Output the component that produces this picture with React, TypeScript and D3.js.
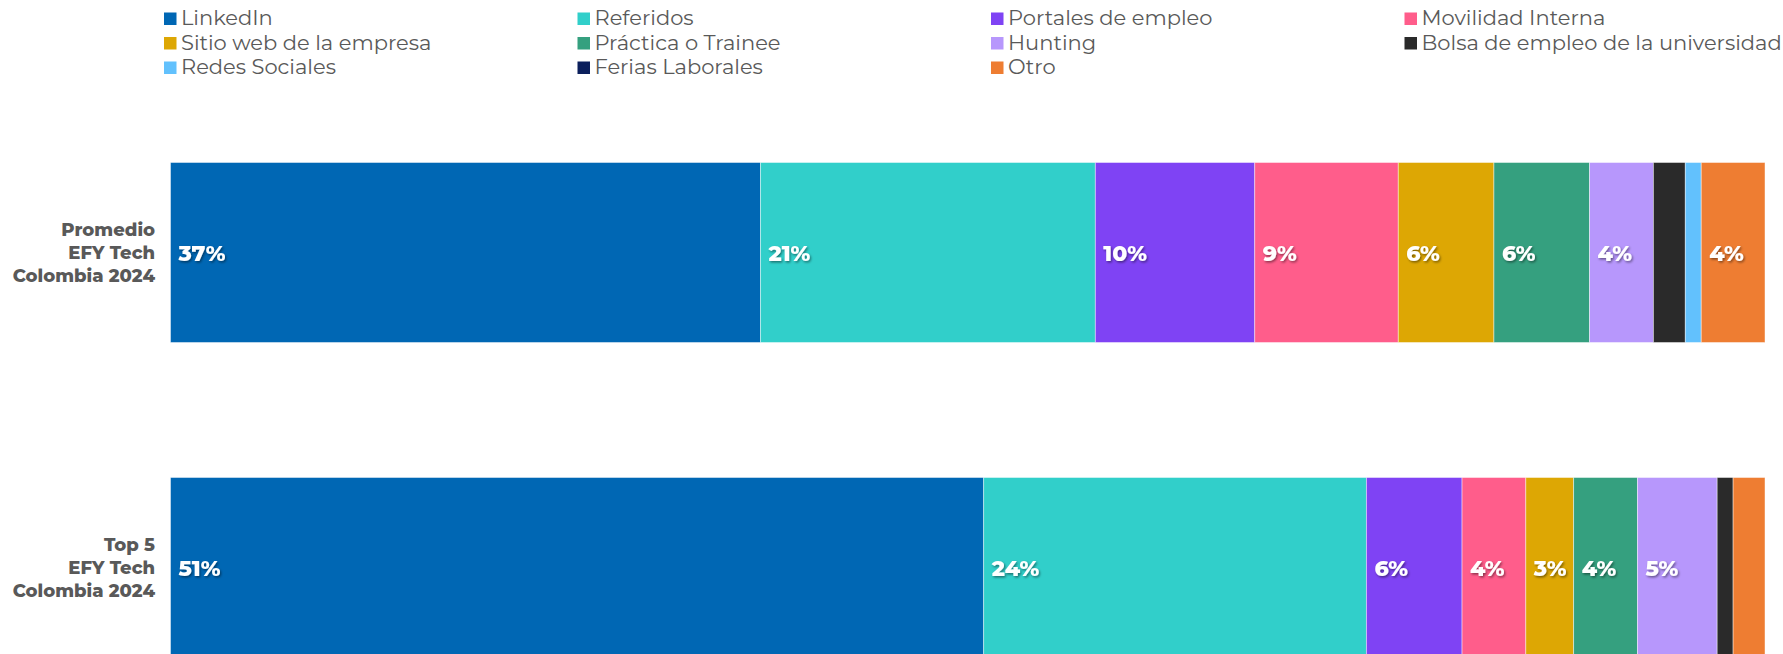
import React from 'react';
import * as d3 from 'd3';

// Fuentes de contratación (orden de apilado y leyenda)
const sources = [
  'LinkedIn',
  'Referidos',
  'Portales de empleo',
  'Movilidad Interna',
  'Sitio web de la empresa',
  'Práctica o Trainee',
  'Hunting',
  'Bolsa de empleo de la universidad',
  'Redes Sociales',
  'Ferias Laborales',
  'Otro',
];

const colors = [
  '#0067B4',
  '#31CFCA',
  '#7F43F4',
  '#FF5D8B',
  '#DDA704',
  '#35A07F',
  '#B797FC',
  '#2A2A2A',
  '#62C1FD',
  '#0B1F5C',
  '#EE7D32',
];

const groups = ['promedio', 'top5'];
const groupLabels = [
  ['Promedio', 'EFY Tech', 'Colombia 2024'],
  ['Top 5', 'EFY Tech', 'Colombia 2024'],
];

// porcentajes
const promedioValues = [37, 21, 10, 9, 6, 6, 4, 2, 1, 0, 4];
const top5Values = [51, 24, 6, 4, 3, 4, 5, 1, 0, 0, 2];

const WIDTH = 1783;
const HEIGHT = 654;
const FONT = "Montserrat, 'DejaVu Sans', sans-serif";

export default function App() {
  const rows = groups.map((g, i) => {
    const vals = i === 0 ? promedioValues : top5Values;
    const row: Record<string, any> = { group: g };
    sources.forEach((s, j) => (row[s] = vals[j]));
    return row;
  });

  const series = d3.stack<any>().keys(sources)(rows);

  const x = d3.scaleLinear().domain([0, 100]).range([170.5, 1765]);
  const y = d3
    .scaleBand<string>()
    .domain(groups)
    .range([95, 725])
    .paddingInner(0.4286)
    .paddingOuter(0.2143);

  const color = d3.scaleOrdinal<string, string>().domain(sources).range(colors);

  const legendX = (i: number) => 164 + (i % 4) * 413.5;
  const legendY = (i: number) => 25 + Math.floor(i / 4) * 24.5;

  return (
    <svg
      width={WIDTH}
      height={HEIGHT}
      style={{ position: 'absolute', left: 0, top: 0, background: '#fff' }}
      fontFamily={FONT}
    >
      <defs>
        <filter id="txtShadow" x="-20%" y="-20%" width="140%" height="160%">
          <feDropShadow dx="1.2" dy="1.5" stdDeviation="0.8" floodColor="#000" floodOpacity="0.45" />
        </filter>
      </defs>

      {/* leyenda */}
      <g>
        {sources.map((s, i) => (
          <g key={s} transform={`translate(${legendX(i)},${legendY(i)})`}>
            <rect x={0} y={-12.5} width={12.5} height={12.5} fill={color(s)} />
            <text x={17} y={0} fontSize={21} fill="#595959">
              {s}
            </text>
          </g>
        ))}
      </g>

      {/* barras apiladas */}
      {series.map((ser) => (
        <g key={ser.key} fill={color(ser.key)}>
          {ser.map((d, i) => {
            const w = x(d[1]) - x(d[0]);
            if (w <= 0) return null;
            return (
              <rect
                key={i}
                x={x(d[0])}
                y={y(groups[i])}
                width={w}
                height={y.bandwidth()}
                stroke="#ffffff"
                strokeOpacity={0.55}
                strokeWidth={0.8}
              />
            );
          })}
        </g>
      ))}

      {/* etiquetas de valor */}
      {series.map((ser) => (
        <g key={ser.key + '-lbl'}>
          {ser.map((d, i) => {
            const v = d[1] - d[0];
            if (v < 3) return null;
            return (
              <text
                key={i}
                x={x(d[0]) + 8}
                y={(y(groups[i]) as number) + y.bandwidth() / 2}
                dy="0.38em"
                fontSize={22}
                fontWeight={800}
                fill="#ffffff"
                filter="url(#txtShadow)"
              >
                {`${Math.round(v)}%`}
              </text>
            );
          })}
        </g>
      ))}

      {/* etiquetas de categoría */}
      {groups.map((g, i) => {
        const cy = (y(g) as number) + y.bandwidth() / 2;
        return (
          <text
            key={g}
            textAnchor="end"
            fontSize={18}
            fontWeight={800}
            fill="#595959"
          >
            {groupLabels[i].map((line, k) => (
              <tspan key={k} x={155} y={cy + (k - 1) * 22.7} dy="0.35em">
                {line}
              </tspan>
            ))}
          </text>
        );
      })}
    </svg>
  );
}
